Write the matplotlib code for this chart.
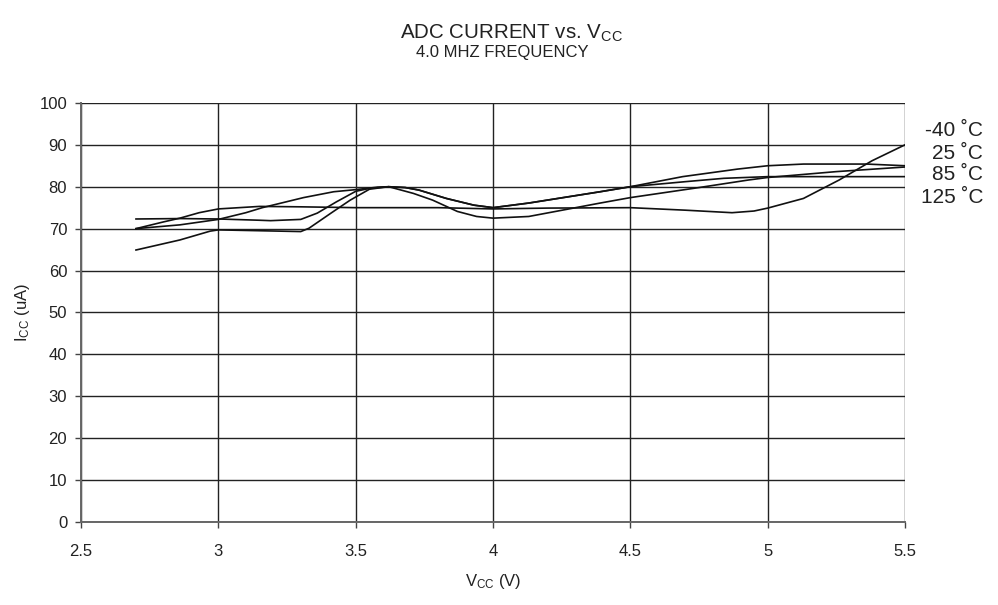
# ADC current vs. Vcc chart (4.0 MHz)

# Loading the libraries_________________________________________________________________________________________________
import matplotlib
matplotlib.use("Agg")
import matplotlib.pyplot as plt

plt.rcParams['font.family'] = ['Liberation Sans', 'DejaVu Sans']
plt.rcParams['mathtext.default'] = 'regular'

# Data__________________________________________________________________________________________________________________
labels = ["-40 ˚C", "25 ˚C", "85 ˚C", "125 ˚C"]

vcc_m40 = [2.7, 2.8, 2.86, 2.93, 3.0, 3.15, 3.3, 3.5, 3.8, 4.0, 4.2, 4.5, 4.7, 4.87, 4.95, 5.0, 5.13, 5.26, 5.38, 5.5]
icc_m40 = [70.0, 71.6, 72.5, 73.8, 74.7, 75.3, 75.2, 75.0, 75.0, 74.7, 74.9, 75.0, 74.4, 73.8, 74.2, 74.9, 77.2, 81.6,
           86.2, 90.0]

vcc_25 = [2.7, 2.86, 3.0, 3.1, 3.16, 3.31, 3.42, 3.5, 3.58, 3.62, 3.68, 3.73, 3.83, 3.93, 4.0, 4.13, 4.39, 4.5,
          4.69, 4.89, 5.0, 5.13, 5.36, 5.5]
icc_25 = [70.0, 70.9, 72.2, 73.8, 75.0, 77.4, 78.8, 79.3, 79.9, 80.0, 79.8, 79.2, 77.2, 75.6, 75.0, 76.1, 78.8, 80.0,
          82.4, 84.2, 85.0, 85.4, 85.4, 85.0]

vcc_85 = [2.7, 2.86, 2.97, 3.0, 3.15, 3.3, 3.33, 3.41, 3.48, 3.55, 3.62, 3.71, 3.78, 3.87, 3.94, 4.0, 4.13, 4.39,
          4.5, 4.75, 4.93, 5.0, 5.25, 5.5]
icc_85 = [64.9, 67.3, 69.4, 69.7, 69.5, 69.3, 70.1, 73.7, 76.8, 79.4, 80.0, 78.4, 76.8, 74.1, 72.9, 72.5, 72.9, 76.1,
          77.4, 79.8, 81.6, 82.2, 83.6, 84.7]

vcc_125 = [2.7, 2.86, 3.0, 3.15, 3.19, 3.3, 3.36, 3.43, 3.5, 3.55, 3.62, 3.68, 3.73, 3.83, 3.93, 4.0, 4.13, 4.39,
           4.5, 4.7, 4.84, 5.0, 5.25, 5.5]
icc_125 = [72.3, 72.4, 72.3, 72.0, 71.9, 72.2, 73.7, 76.4, 78.9, 79.6, 80.0, 79.8, 79.2, 77.2, 75.6, 75.0, 76.1,
           78.8, 80.0, 81.2, 82.0, 82.4, 82.4, 82.4]

x_ticks = [2.5, 3, 3.5, 4, 4.5, 5, 5.5]
x_tick_labels = ["2.5", "3", "3.5", "4", "4.5", "5", "5.5"]
y_ticks = [0, 10, 20, 30, 40, 50, 60, 70, 80, 90, 100]

# Plotting______________________________________________________________________________________________________________
fig = plt.figure(figsize=(9.98, 6.05), dpi=100)
ax = fig.add_axes([0.0812, 0.137, 0.8257, 0.693])

for vx, iy in [(vcc_m40, icc_m40), (vcc_25, icc_25), (vcc_85, icc_85), (vcc_125, icc_125)]:
    ax.plot(vx, iy, color='#111111', linewidth=1.2, zorder=3)

ax.set_xlim(2.5, 5.5)
ax.set_ylim(0, 100)
ax.set_xticks(x_ticks)
ax.set_xticklabels(x_tick_labels)
ax.set_yticks(y_ticks)
ax.grid(True, color='#222222', linewidth=1.0)
ax.set_axisbelow(True)
for side in ['top', 'right']:
    ax.spines[side].set_visible(False)
for side in ['left', 'bottom']:
    ax.spines[side].set_color('#666666')
    ax.spines[side].set_linewidth(1.4)
ax.tick_params(direction='out', length=4, width=1.0, color='#444444', labelsize=12, labelcolor='#222222', pad=6)
ax.tick_params(axis='x', pad=12)

ax.set_xlabel(r'V$_{CC}$ (V)', fontsize=12, color='#222222', labelpad=9)
ax.set_ylabel(r'I$_{CC}$ (uA)', fontsize=12, color='#222222', labelpad=5)

# titles
fig.text(0.512, 0.945, r'ADC CURRENT vs. V$_{CC}$', ha='center', va='center', fontsize=14.8, color='#222222')
fig.text(0.503, 0.913, '4.0 MHZ FREQUENCY', ha='center', va='center', fontsize=12, color='#222222')

# temperature labels on the right
label_y = [0.785, 0.747, 0.711, 0.674]
for lab, yy in zip(labels, label_y):
    fig.text(0.985, yy, lab, ha='right', va='center', fontsize=15, color='#222222')

fig.savefig('out.png', dpi=100)
